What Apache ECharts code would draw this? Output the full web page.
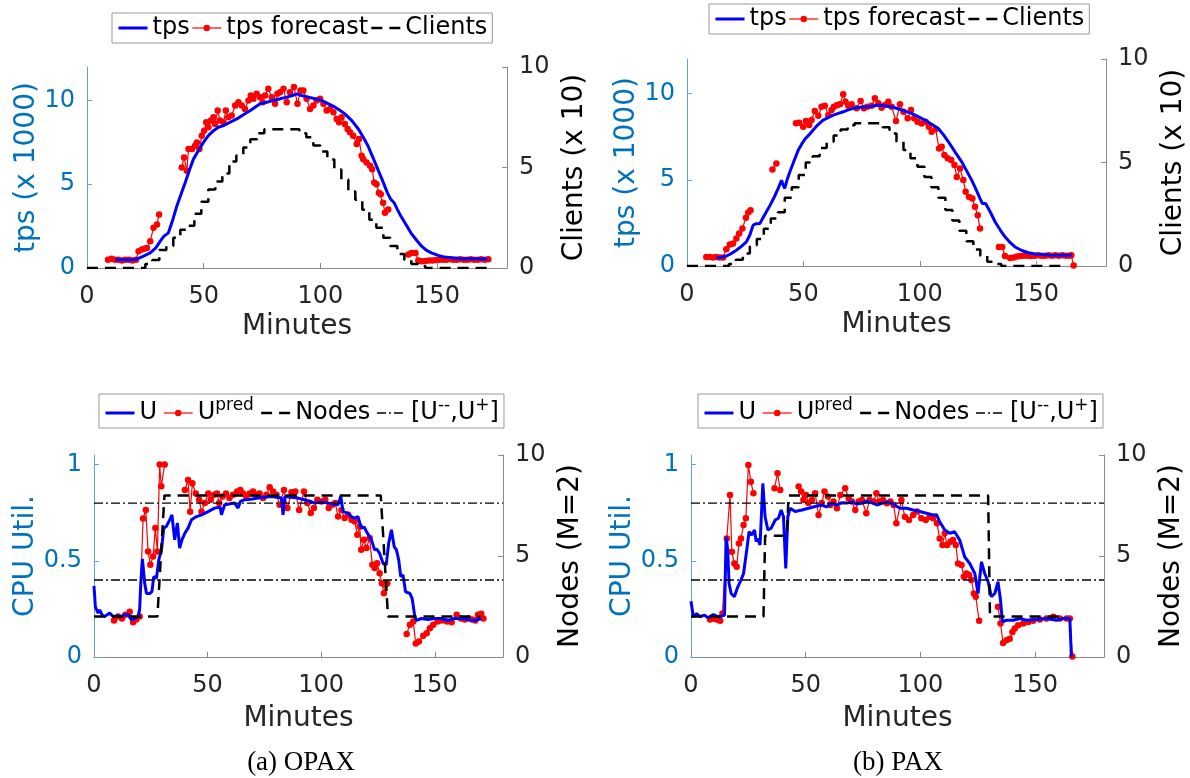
<!DOCTYPE html>
<html><head><meta charset="utf-8">
<script src="https://cdn.jsdelivr.net/npm/echarts@6.0.0/dist/echarts.min.js"></script>
<style>html,body{margin:0;padding:0;background:#fff}#c{width:1190px;height:778px}</style>
</head><body><div id="c"></div>
<script>
// ---------- tick labels ----------
const minuteTicks = [0, 50, 100, 150];
const tpsTicks = [0, 5, 10];
const utilTicks = [0, 0.5, 1];
const rightTicks = [0, 5, 10];

// ---------- (a) OPAX : tps panel ----------
const tpsA = [[12.1,0.5],[16,0.5],[20.7,0.5],[24,0.7],[27.1,0.9],[29.5,1.2],[31.4,1.6],[33,1.9],[34.9,2.1],[36.8,2.9],[38.5,3.7],[40.3,4.4],[42.1,5.1],[43.8,5.8],[45.6,6.5],[47.7,7.0],[49.9,7.5],[52,7.9],[54.2,8.2],[56.3,8.4],[58.5,8.5],[61.3,8.7],[64.2,8.9],[67,9.15],[70,9.4],[72,9.6],[74.2,9.8],[77,9.9],[79.9,10.0],[82.8,10.1],[85.6,10.2],[88,10.3],[89.9,10.4],[92,10.3],[94.9,10.2],[97.7,10.1],[100.6,10.0],[103.5,9.8],[106.3,9.6],[108.5,9.4],[110.5,9.2],[113.5,8.8],[116.3,8.3],[118.4,7.8],[120.4,7.3],[122.5,6.6],[124.6,5.9],[126.7,5.2],[128.7,4.5],[130.2,4.1],[131.6,3.9],[133,3.5],[134.5,3.1],[136.7,2.6],[138.8,2.1],[141,1.7],[143.4,1.3],[145.5,1.05],[147.6,0.9],[150.5,0.75],[153.3,0.65],[157,0.6],[160.5,0.55],[166,0.55],[171.9,0.54]];
const tpsForecastA = [[9,0.5],[10.5,0.55],[12,0.5],[13.5,0.5],[15,0.45],[16.5,0.5],[18,0.5],[19.5,0.45],[21,0.5],[22.1,1.0],[23.5,1.1],[24.5,1.15],[25.7,1.2],[27.1,1.6],[28.5,2.4],[30,2.6],[30.9,3.2],[31.5,null],[40.6,6.0],[41.6,6.6],[42.8,5.8],[43.5,7.1],[45,7.1],[46.3,7.3],[47.1,7.5],[48.2,7.1],[49.2,7.9],[50.2,8.2],[51.1,8.7],[52,8.4],[53.1,8.8],[54.2,9.0],[54.9,8.6],[56,9.4],[57,8.8],[58.5,8.7],[59.5,9.4],[60.6,9.0],[62,9.1],[63.5,9.7],[64.9,9.9],[66.3,9.7],[67.7,9.5],[69.2,10.0],[70.2,10.3],[71.3,10.1],[72.7,10.4],[74.2,10.2],[75.3,9.9],[76.3,10.3],[77.7,10.7],[79.2,10.2],[80.6,9.8],[81.6,10.4],[82.7,10.5],[84.2,10.7],[85.6,9.9],[87,10.5],[88.7,10.8],[90.2,9.8],[91.5,10.6],[92.7,10.6],[94.1,10.1],[95.6,9.5],[97,9.7],[98.4,10.0],[99.9,10.1],[101.3,9.8],[102.7,9.4],[104.1,9.5],[105.6,9.3],[107,8.9],[108,8.7],[109.1,9.0],[110.5,8.6],[111.7,8.3],[112.7,8.1],[114.1,7.9],[115.6,7.4],[116.6,7.7],[117.7,6.7],[118.4,6.5],[119.8,6.3],[121.3,6.1],[122.2,5.9],[123.1,5.1],[124.1,5.0],[125.1,4.5],[125.9,4.4],[126.9,3.9],[127.7,3.3],[129.1,3.5],[130,null],[137.7,0.8],[139.1,0.9],[140.8,0.9],[142,0.45],[143.5,0.4],[145,0.42],[146.5,0.45],[148,0.45],[149.5,0.48],[151,0.5],[152.5,0.5],[154,0.5],[155.5,0.52],[157,0.5],[158.5,0.5],[160,0.52],[161.5,0.5],[163,0.5],[164.5,0.52],[166,0.5],[167.5,0.5],[169,0.52],[170.5,0.5],[172,0.52]];
const clientsA = [[0,0],[21,0],[25,0.2],[28,0.4],[31,0.9],[34,1.1],[37,1.5],[40,1.9],[43,2.1],[46,2.7],[49,3.3],[52,3.9],[55,4.3],[58,4.7],[61,5.3],[64,5.6],[67,6.0],[70,6.4],[73,6.7],[76,6.9],[88,6.9],[91,6.7],[94,6.5],[97,6.1],[100,5.8],[103,5.4],[106,4.9],[109,4.4],[112,3.8],[115,3.4],[118,2.9],[121,2.4],[124,2.0],[127,1.5],[130,1.1],[133,0.7],[136,0.4],[139,0.2],[142,0.1],[145,0],[172,0]];

// ---------- (b) PAX : tps panel ----------
const tpsB = [[12.6,0.46],[14.5,0.5],[16.9,0.58],[19,0.72],[21.2,0.91],[23.5,1.15],[25.5,1.4],[27,1.8],[28.4,2.37],[29.8,2.45],[31.3,2.47],[33.5,3.0],[35.6,3.5],[37.5,4.0],[39.2,4.5],[40.6,4.97],[41.3,4.7],[42,4.5],[43,5.0],[44.2,5.46],[46,6.1],[47.8,6.72],[49.2,7.05],[50.6,7.35],[52.4,7.6],[54.2,7.88],[56.3,8.2],[58.5,8.46],[60.6,8.6],[62.8,8.75],[65,8.85],[67.1,8.94],[69.2,9.05],[71.4,9.14],[74.3,9.2],[77.2,9.23],[80,9.28],[82.9,9.33],[85.8,9.28],[88.6,9.2],[91,9.1],[93.5,8.98],[96.5,8.85],[99.3,8.66],[102.2,8.46],[105.1,8.22],[108,7.97],[110.2,7.6],[112.3,7.2],[115.2,6.6],[118,6.04],[120.2,5.5],[122.3,4.98],[124.1,4.45],[125.9,3.91],[126.9,3.62],[128.3,3.62],[130.4,3.1],[132.4,2.55],[134.5,2.1],[136.7,1.68],[138.9,1.35],[141,1.1],[143.8,0.9],[146.7,0.77],[149.5,0.7],[152.4,0.67],[156,0.64],[160,0.63],[165.3,0.62]];
const tpsForecastB = [[8.3,0.52],[9.7,0.52],[11.1,0.5],[12.6,0.52],[14,0.5],[15.5,0.5],[16.9,0.97],[18.4,1.24],[19.8,1.3],[21.2,1.59],[22.4,1.88],[23.8,2.17],[25.3,2.8],[26.3,3.1],[27.3,3.23],[28,null],[36.7,5.6],[38.4,5.94],[39,null],[46.8,8.27],[48.2,8.3],[49.9,8.07],[51.1,8.4],[52.5,8.17],[53.5,8.46],[54.9,8.98],[56.4,8.71],[57.8,9.23],[59.2,9.29],[60.7,8.75],[62.1,9.04],[63.1,9.23],[64.5,9.33],[65.7,9.37],[67.1,9.95],[68.1,9.52],[69.3,9.29],[70.7,9.37],[72.9,9.14],[74.6,9.56],[76,9.14],[77.4,9.23],[79.3,9.29],[80.7,9.72],[82.2,9.43],[83.6,9.18],[85,9.33],[86.5,9.52],[87.9,9.23],[89.8,8.4],[91.5,9.37],[93,8.94],[94.8,8.56],[96.2,9.04],[97.6,8.56],[99,8.36],[100.8,8.26],[102.5,8.36],[103.9,8.07],[105.1,7.78],[106.8,7.93],[108.3,6.81],[109.4,6.91],[110.6,6.43],[112,6.24],[113.5,6.14],[114.9,5.85],[115.9,5.16],[117.3,5.65],[118.7,4.98],[119.7,4.3],[121.2,4.0],[122.6,3.91],[123.7,3.43],[124.9,2.94],[125.9,2.17],[127,null],[134,1.1],[135.4,1.1],[136.6,0.58],[138.8,0.46],[140.3,0.5],[141.8,0.55],[143.3,0.58],[144.8,0.6],[146.3,0.6],[147.8,0.58],[149.3,0.6],[150.8,0.62],[152.3,0.6],[153.8,0.6],[155.3,0.62],[156.8,0.6],[158.3,0.62],[159.8,0.6],[161.3,0.62],[162.8,0.6],[164.2,0.6],[165.1,0.62],[166.1,0.03]];
const clientsB = [[0,0],[15,0],[18,0.1],[21,0.3],[24,0.6],[27,1.0],[30,1.3],[33,1.8],[36,2.3],[39,2.6],[42,3.3],[45,3.8],[48,4.4],[51,5.0],[54,5.3],[57,5.7],[60,6.0],[63,6.3],[66,6.6],[69,6.8],[72,6.9],[81,6.9],[84,6.7],[87,6.4],[90,6.0],[93,5.6],[96,5.2],[99,4.8],[102,4.3],[105,3.8],[108,3.3],[111,2.7],[114,2.2],[117,1.7],[120,1.2],[123,0.8],[126,0.5],[129,0.2],[132,0.1],[135,0],[163,0]];

// ---------- (a) OPAX : CPU panel ----------
const utilA = [[0,0.37],[0.6,0.26],[1.8,0.228],[2.5,0.245],[3.5,0.22],[4.7,0.21],[5.8,0.22],[6.9,0.228],[8,0.215],[9.1,0.21],[10.5,0.215],[12,0.21],[13.5,0.22],[15,0.22],[16.4,0.194],[17.9,0.2],[19.4,0.21],[20.1,0.25],[20.6,0.384],[21.3,0.51],[22.3,0.384],[23.1,0.33],[24.5,0.33],[25.5,0.34],[26.3,0.418],[27.5,0.41],[28.5,0.505],[29.7,0.557],[30.7,0.67],[31.8,0.678],[33.3,0.713],[34.3,0.739],[35.5,0.609],[36.7,0.696],[37.7,0.566],[38.7,0.609],[40,0.644],[41.4,0.67],[42.9,0.713],[45.1,0.73],[47.4,0.739],[50.2,0.756],[53.1,0.774],[55.5,0.78],[56.1,0.739],[57.5,0.791],[61.9,0.8],[63.4,0.774],[64.5,0.81],[66.3,0.817],[69,0.82],[72.2,0.826],[75,0.83],[78,0.834],[80.5,0.83],[82.5,0.826],[83.2,0.739],[84,0.834],[86.5,0.83],[89.8,0.826],[92.7,0.817],[95,0.81],[97.1,0.8],[100,0.805],[103,0.8],[105,0.795],[107.4,0.791],[108.6,0.834],[109.6,0.756],[111.8,0.748],[113.2,0.73],[114.7,0.722],[116.2,0.73],[117.6,0.67],[119,0.675],[119.9,0.652],[121,0.63],[122.1,0.609],[123.5,0.557],[124.5,0.56],[125.7,0.539],[127.2,0.487],[128.6,0.479],[129.7,0.592],[130.9,0.661],[132.1,0.574],[133.1,0.557],[134.1,0.505],[135,0.418],[136,0.427],[137.1,0.339],[139,0.331],[140,0.305],[141.2,0.21],[141.9,0.19],[144.1,0.2],[147,0.195],[150,0.2],[153,0.2],[155.8,0.19],[158.5,0.2],[161.7,0.2],[164.5,0.195],[167.6,0.19],[170.5,0.2]];
const utilPredA = [[8.8,0.19],[10.6,0.21],[12.3,0.2],[13.8,0.22],[15.7,0.235],[17.2,0.18],[18.6,0.195],[20.1,0.21],[21.6,0.72],[22.8,0.764],[23.8,0.548],[24.8,0.479],[26,0.522],[27,0.67],[27.9,0.548],[28.9,1.0],[29.6,0.887],[31.1,1.0],[32,null],[40,0.868],[41.4,0.92],[42.3,0.755],[43.3,0.903],[44.8,0.85],[46.3,0.817],[47.3,0.755],[48.8,0.8],[50.3,0.85],[51.4,0.817],[52.9,0.843],[54.1,0.85],[55.1,0.8],[56.6,0.834],[58.1,0.85],[59.6,0.826],[61.2,0.843],[63,0.86],[64.4,0.868],[65.6,0.85],[67,0.834],[68.5,0.85],[70,0.86],[71.5,0.843],[72.9,0.85],[74.4,0.826],[75.9,0.843],[77.3,0.882],[78.8,0.86],[80.3,0.843],[81.7,0.791],[83.6,0.868],[85.1,0.774],[86.9,0.856],[88.6,0.86],[90.3,0.764],[92.4,0.86],[93.9,0.8],[95.4,0.748],[96.8,0.774],[98.3,0.817],[100.1,0.808],[101.8,0.817],[103.3,0.774],[104.8,0.791],[106.2,0.8],[107.4,0.73],[108.9,0.764],[110.3,0.722],[111.8,0.739],[113.3,0.713],[114.7,0.704],[115.9,0.635],[116.9,0.678],[117.6,0.557],[118.8,0.609],[119.9,0.566],[121.3,0.618],[122.5,0.479],[123.5,0.462],[124.6,0.487],[125.7,0.435],[126.7,0.383],[127.6,0.331],[128.3,0.375],[129.1,0.383],[130,null],[137.6,0.12],[139,0.167],[140.5,0.185],[141.6,0.07],[143,0.08],[144.9,0.11],[146.4,0.124],[147.8,0.15],[149.3,0.167],[151.2,0.185],[153,0.19],[155.2,0.185],[157.4,0.18],[159.6,0.22],[161.5,0.2],[163.2,0.195],[164.8,0.2],[166.3,0.195],[167.8,0.19],[169,0.22],[170.4,0.225],[171.4,0.2]];
const nodesA = [[0,2],[27.9,2],[31,8],[126.2,8],[129.4,2],[170,2]];

// ---------- (b) PAX : CPU panel ----------
const utilB = [[0,0.29],[1,0.209],[2.5,0.226],[3.9,0.209],[5,0.215],[6.1,0.217],[7.2,0.205],[8.3,0.209],[9.5,0.22],[10.5,0.217],[11.6,0.21],[12.7,0.209],[13.7,0.215],[14.6,0.217],[15.3,0.625],[16,0.556],[16.6,0.382],[17.5,0.33],[18.9,0.313],[20.4,0.365],[21.8,0.4],[22.9,0.434],[24.3,0.556],[25.3,0.651],[26.5,0.634],[27.7,0.66],[28.4,0.6],[29.1,0.616],[30.1,0.582],[31.3,0.902],[32.3,0.729],[33.5,0.66],[34.9,0.669],[36.7,0.712],[38.1,0.721],[39.3,0.764],[40.3,0.729],[41.3,0.46],[42.2,0.729],[43.2,0.773],[45.4,0.756],[48.3,0.764],[51.2,0.773],[54.1,0.782],[57,0.79],[59,0.78],[61.4,0.799],[63.5,0.79],[65.8,0.802],[68,0.8],[70.1,0.808],[72,0.795],[74.5,0.799],[76.5,0.81],[78.9,0.802],[81,0.79],[83.2,0.799],[85.5,0.805],[87.6,0.799],[89.8,0.782],[91,0.773],[93.9,0.773],[96.8,0.764],[99.7,0.756],[102.6,0.747],[105.5,0.738],[107,0.74],[108.4,0.703],[110.6,0.66],[112.8,0.643],[114.9,0.651],[117.1,0.608],[119.3,0.52],[121.5,0.486],[123.7,0.434],[125.1,0.33],[126.6,0.495],[128,0.434],[129.5,0.391],[130.9,0.313],[132.4,0.33],[133.8,0.391],[134.9,0.295],[135.7,0.182],[137.5,0.191],[140.4,0.191],[143.3,0.2],[146.2,0.191],[150.6,0.195],[154.9,0.2],[159.3,0.191],[162.2,0.2],[165.1,0.2],[165.8,0]];
const utilPredB = [[8.3,0.195],[9.7,0.2],[11.2,0.195],[12.7,0.188],[13.7,0.226],[15.6,0.616],[17,0.842],[17.8,0.547],[18.9,0.486],[19.9,0.469],[20.9,0.59],[21.8,0.616],[22.9,0.686],[23.9,0.721],[25,0.998],[26.1,0.911],[27.2,0.851],[28,null],[36.4,0.877],[37.7,0.955],[38.9,0.868],[40,null],[46.9,0.886],[48,0.86],[49,0.816],[50.1,0.842],[51.2,0.8],[52.7,0.816],[54.1,0.851],[55.6,0.738],[57,0.8],[58.2,0.86],[59.7,0.834],[60.7,0.79],[62.1,0.808],[63.6,0.773],[65.1,0.842],[67.2,0.877],[68.7,0.825],[70.1,0.808],[71.6,0.764],[73.1,0.808],[74.5,0.816],[76.4,0.747],[77.8,0.816],[79.6,0.808],[80.8,0.851],[82.1,0.808],[83.7,0.816],[85.4,0.799],[86.9,0.808],[88.3,0.79],[89.5,0.695],[91.7,0.816],[93.2,0.729],[95,0.712],[96.8,0.738],[98.5,0.756],[100.4,0.721],[102.3,0.712],[104,0.729],[105.5,0.721],[107.2,0.695],[108.4,0.616],[109.6,0.582],[110.6,0.643],[111.6,0.582],[113.1,0.599],[114.2,0.608],[115.4,0.582],[116.4,0.486],[117.9,0.478],[118.9,0.417],[120.1,0.434],[121.2,0.426],[122.2,0.4],[123.3,0.33],[124.1,0.313],[125.6,0.188],[126.5,null],[133.8,0.261],[134.9,0.174],[136,0.073],[137.5,0.087],[138.9,0.095],[140.1,0.13],[141.1,0.148],[142.6,0.165],[144.8,0.174],[147,0.182],[149.1,0.188],[152,0.195],[154.9,0.2],[157.9,0.209],[160.8,0.2],[163.7,0.2],[165.1,0.2],[166.2,0.003]];
const nodesB = [[0,2],[31.6,2],[32.3,6],[41.8,6],[42.5,8],[129.5,8],[130.3,2],[163,2]];

// ---------- utilisation bounds [U--, U+] ----------
const boundUpper = [[0,0.8],[180,0.8]];
const boundLower = [[0,0.4],[180,0.4]];

// ---------- chart ----------
const F = 'DejaVu Sans';
const BLUE_AX = '#0072BD', GRAY = '#8a8a8a', TXT = '#262626';
const grids = [
  {left: 87,  top: 67,  width: 420, height: 201},
  {left: 687, top: 59,  width: 419, height: 207},
  {left: 94,  top: 455, width: 409, height: 202},
  {left: 691, top: 455, width: 413, height: 202}
].map(g => Object.assign({outerBoundsMode: 'none', containLabel: false}, g));

function xAx(gi, gap) {
  return {type: 'value', gridIndex: gi, min: 0, max: 180,
    name: 'Minutes', nameLocation: 'middle', nameGap: gap,
    nameTextStyle: {fontSize: 28, color: TXT, fontFamily: F},
    axisLine: {show: true, onZero: false, lineStyle: {color: GRAY, width: 1}},
    axisTick: {show: true, inside: true, length: 5, customValues: minuteTicks, lineStyle: {color: GRAY}},
    axisLabel: {customValues: minuteTicks, fontSize: 24, color: TXT, margin: 17, fontFamily: F},
    splitLine: {show: false}};
}
function yLeft(gi, max, name, ticks) {
  return {type: 'value', gridIndex: gi, position: 'left', min: 0, max: max,
    name: name, nameLocation: 'middle', nameRotate: 90, nameGap: 46,
    nameTextStyle: {fontSize: 28, color: BLUE_AX, fontFamily: F},
    axisLine: {show: true, onZero: false, lineStyle: {color: '#5fa3d8', width: 1}},
    axisTick: {show: true, inside: true, length: 5, customValues: ticks, lineStyle: {color: '#5fa3d8'}},
    axisLabel: {customValues: ticks, fontSize: 24, color: BLUE_AX, margin: 12, fontFamily: F},
    splitLine: {show: false}};
}
function yRight(gi, name) {
  return {type: 'value', gridIndex: gi, position: 'right', min: 0, max: 10,
    name: name, nameLocation: 'middle', nameRotate: 90, nameGap: 54,
    nameTextStyle: {fontSize: 28, color: '#000', fontFamily: F},
    axisLine: {show: true, onZero: false, lineStyle: {color: GRAY, width: 1}},
    axisTick: {show: true, inside: true, length: 5, customValues: rightTicks, lineStyle: {color: GRAY}},
    axisLabel: {customValues: rightTicks, fontSize: 24, color: TXT, margin: 12, fontFamily: F},
    splitLine: {show: false}};
}

function blueLine(name, xi, yi, data) {
  return {type: 'line', name, xAxisIndex: xi, yAxisIndex: yi, data, symbol: 'none', z: 3,
    lineStyle: {color: '#0000FF', width: 3}, itemStyle: {color: '#0000FF'}};
}
function redLine(name, xi, yi, data) {
  return {type: 'line', name, xAxisIndex: xi, yAxisIndex: yi, data, symbol: 'circle', symbolSize: 6.5, z: 2,
    showAllSymbol: true, connectNulls: false,
    lineStyle: {color: '#FF0000', width: 1.2}, itemStyle: {color: '#FF0000'}};
}
function dashLine(name, xi, yi, data, step) {
  return {type: 'line', name, xAxisIndex: xi, yAxisIndex: yi, data, symbol: 'none', z: 4, step: step || false,
    lineStyle: {color: '#000', width: 2.5, type: [11, 7]}, itemStyle: {color: '#000'}};
}
function boundLine(name, xi, yi, data) {
  return {type: 'line', name, xAxisIndex: xi, yAxisIndex: yi, data, symbol: 'none', z: 4,
    lineStyle: {color: '#000', width: 1.4, type: [9, 3, 2, 3]}, itemStyle: {color: '#000'}};
}

// legend entries for plain lines: hide the marker, keep the line
const noMark = {color: 'rgba(0,0,0,0)', borderWidth: 0, opacity: 0};
function item(name, plain) { return plain ? {name, itemStyle: noMark} : {name}; }

const legendBase = {orient: 'horizontal', itemWidth: 29, itemHeight: 8, itemGap: 2,
  padding: [3, 5], borderColor: '#999', borderWidth: 1, backgroundColor: '#fff',
  selectedMode: false, lineStyle: {width: 'inherit'},
  textStyle: {fontSize: 24, color: '#000', fontFamily: F}};
const richLegend = {
  itemGap: 6,
  formatter: function (n) {
    if (n === 'Upred') return '{n|U}{s|pred}';
    if (n === '[U--,U+]') return '{n|[U}{s|--}{n|,U}{s|+}{n|]}';
    return '{n|' + n + '}';
  },
  textStyle: {fontSize: 24, color: '#000', fontFamily: F,
    rich: {n: {fontSize: 24, color: '#000', fontFamily: F, lineHeight: 32},
           s: {fontSize: 17, color: '#000', fontFamily: F, verticalAlign: 'top', lineHeight: 18}}}
};
const topLegendData = [item('tps', true), item('tps forecast'), item('Clients', true)];
const botLegendData = [item('U', true), item('Upred'), item('Nodes', true), item('[U--,U+]', true)];

const option = {
  animation: false,
  backgroundColor: '#fff',
  grid: grids,
  xAxis: [xAx(0, 45), xAx(1, 45), xAx(2, 48), xAx(3, 48)],
  yAxis: [
    yLeft(0, 12, 'tps (x 1000)', tpsTicks), yRight(0, 'Clients (x 10)'),
    yLeft(1, 12, 'tps (x 1000)', tpsTicks), yRight(1, 'Clients (x 10)'),
    yLeft(2, 1.05, 'CPU Util.', utilTicks), yRight(2, 'Nodes (M=2)'),
    yLeft(3, 1.05, 'CPU Util.', utilTicks), yRight(3, 'Nodes (M=2)')
  ],
  legend: [
    Object.assign({}, legendBase, {data: topLegendData, left: 112, top: 13}),
    Object.assign({}, legendBase, {data: topLegendData, left: 709, top: 4}),
    Object.assign({}, legendBase, richLegend, {data: botLegendData, left: 99, top: 394}),
    Object.assign({}, legendBase, richLegend, {data: botLegendData, left: 698, top: 394})
  ],
  series: [
    redLine('tps forecast', 0, 0, tpsForecastA), blueLine('tps', 0, 0, tpsA), dashLine('Clients', 0, 1, clientsA, 'end'),
    redLine('tps forecast', 1, 2, tpsForecastB), blueLine('tps', 1, 2, tpsB), dashLine('Clients', 1, 3, clientsB, 'end'),
    redLine('Upred', 2, 4, utilPredA), blueLine('U', 2, 4, utilA), dashLine('Nodes', 2, 5, nodesA),
    boundLine('[U--,U+]', 2, 4, boundUpper), boundLine('[U--,U+]', 2, 4, boundLower),
    redLine('Upred', 3, 6, utilPredB), blueLine('U', 3, 6, utilB), dashLine('Nodes', 3, 7, nodesB),
    boundLine('[U--,U+]', 3, 6, boundUpper), boundLine('[U--,U+]', 3, 6, boundLower)
  ],
  graphic: [
    {type: 'text', x: 301, y: 763, style: {text: '(a) OPAX', fontSize: 27, fontFamily: 'Liberation Serif', fill: '#000', align: 'center', verticalAlign: 'middle'}},
    {type: 'text', x: 898, y: 763, style: {text: '(b) PAX', fontSize: 27, fontFamily: 'Liberation Serif', fill: '#000', align: 'center', verticalAlign: 'middle'}}
  ]
};
const chart = echarts.init(document.getElementById('c'), null, {renderer: 'canvas'});
chart.setOption(option);
</script>
</body></html>
